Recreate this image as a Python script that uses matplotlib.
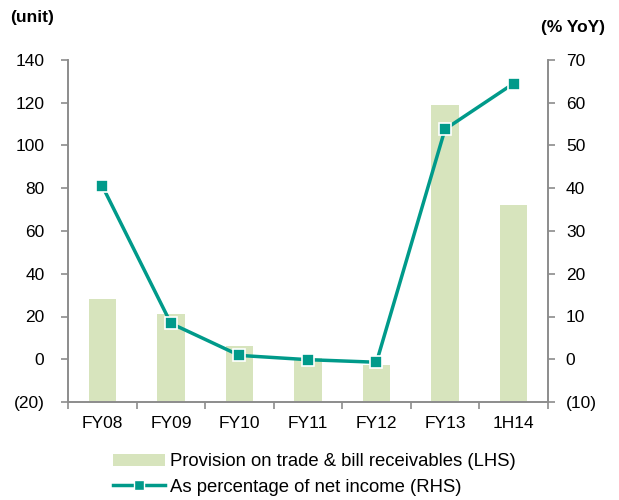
import numpy as np
from matplotlib import pyplot as plt
from matplotlib.lines import Line2D
from matplotlib.patches import Patch

plt.rcParams['font.family'] = ['Liberation Sans', 'DejaVu Sans']

periods = ["FY08", "FY09", "FY10", "FY11", "FY12", "FY13", "1H14"]
provision = [28, 21, 6, 0.5, -2.5, 119, 72]          # LHS, units
pct_net_income = [40.5, 8.4, 0.9, -0.1, -0.7, 53.8, 64.5]  # RHS, %

left_ticks = [-20, 0, 20, 40, 60, 80, 100, 120, 140]
left_labels = ["(20)", "0", "20", "40", "60", "80", "100", "120", "140"]
right_ticks = [-10, 0, 10, 20, 30, 40, 50, 60, 70]
right_labels = ["(10)", "0", "10", "20", "30", "40", "50", "60", "70"]

bar_col = "#d7e4bd"
line_col = "#009a8a"
axis_col = "#8c8c8c"

fig = plt.figure(figsize=(6.19, 5.0), dpi=100)
ax = fig.add_axes([0.110, 0.196, 0.775, 0.684])
ax2 = ax.twinx()

x = np.arange(len(periods))
base = left_ticks[0]
ax.bar(x, np.array(provision) - base, bottom=base, width=0.4, color=bar_col, zorder=1)
ax2.plot(x, pct_net_income, color=line_col, linewidth=2.5, marker="s", markersize=9,
         markerfacecolor=line_col, markeredgecolor="white", markeredgewidth=1.2, zorder=3)

ax.set_xlim(-0.5, len(periods) - 0.5)
ax.set_ylim(-20, 140)
ax2.set_ylim(-10, 70)
ax.set_yticks(left_ticks)
ax.set_yticklabels(left_labels)
ax2.set_yticks(right_ticks)
ax2.set_yticklabels(right_labels)

# category labels centred, tick marks on the boundaries
ax.set_xticks(x)
ax.set_xticklabels(periods)
ax.set_xticks(np.arange(-0.5, len(periods)), minor=True)
ax.tick_params(axis="x", which="major", length=0, pad=10)
ax.tick_params(axis="x", which="minor", length=5, color=axis_col, width=1.2)

for a in (ax, ax2):
    for s in a.spines.values():
        s.set_color(axis_col)
        s.set_linewidth(1.2)
    a.spines["top"].set_visible(False)
    a.tick_params(axis="y", length=5, color=axis_col, width=1.2, labelsize=12.5)
    a.tick_params(axis="x", labelsize=12.5)
ax.tick_params(axis="y", pad=12)
ax2.tick_params(axis="y", pad=8)

fig.text(0.016, 0.965, "(unit)", fontsize=12.5, fontweight="bold", va="center")
fig.text(0.978, 0.945, "(% YoY)", fontsize=12.5, fontweight="bold", va="center", ha="right")

handles = [Patch(facecolor=bar_col, edgecolor="none"),
           Line2D([], [], color=line_col, linewidth=2.5, marker="s", markersize=7,
                  markerfacecolor=line_col, markeredgecolor="white")]
fig.legend(handles, ["Provision on trade & bill receivables (LHS)",
                     "As percentage of net income (RHS)"],
           loc="center", bbox_to_anchor=(0.508, 0.051), frameon=False, fontsize=13.3,
           handlelength=2.8, handleheight=0.6, labelspacing=0.45, handletextpad=0.3,
           borderpad=0.2)

fig.savefig("out.png", dpi=100)
